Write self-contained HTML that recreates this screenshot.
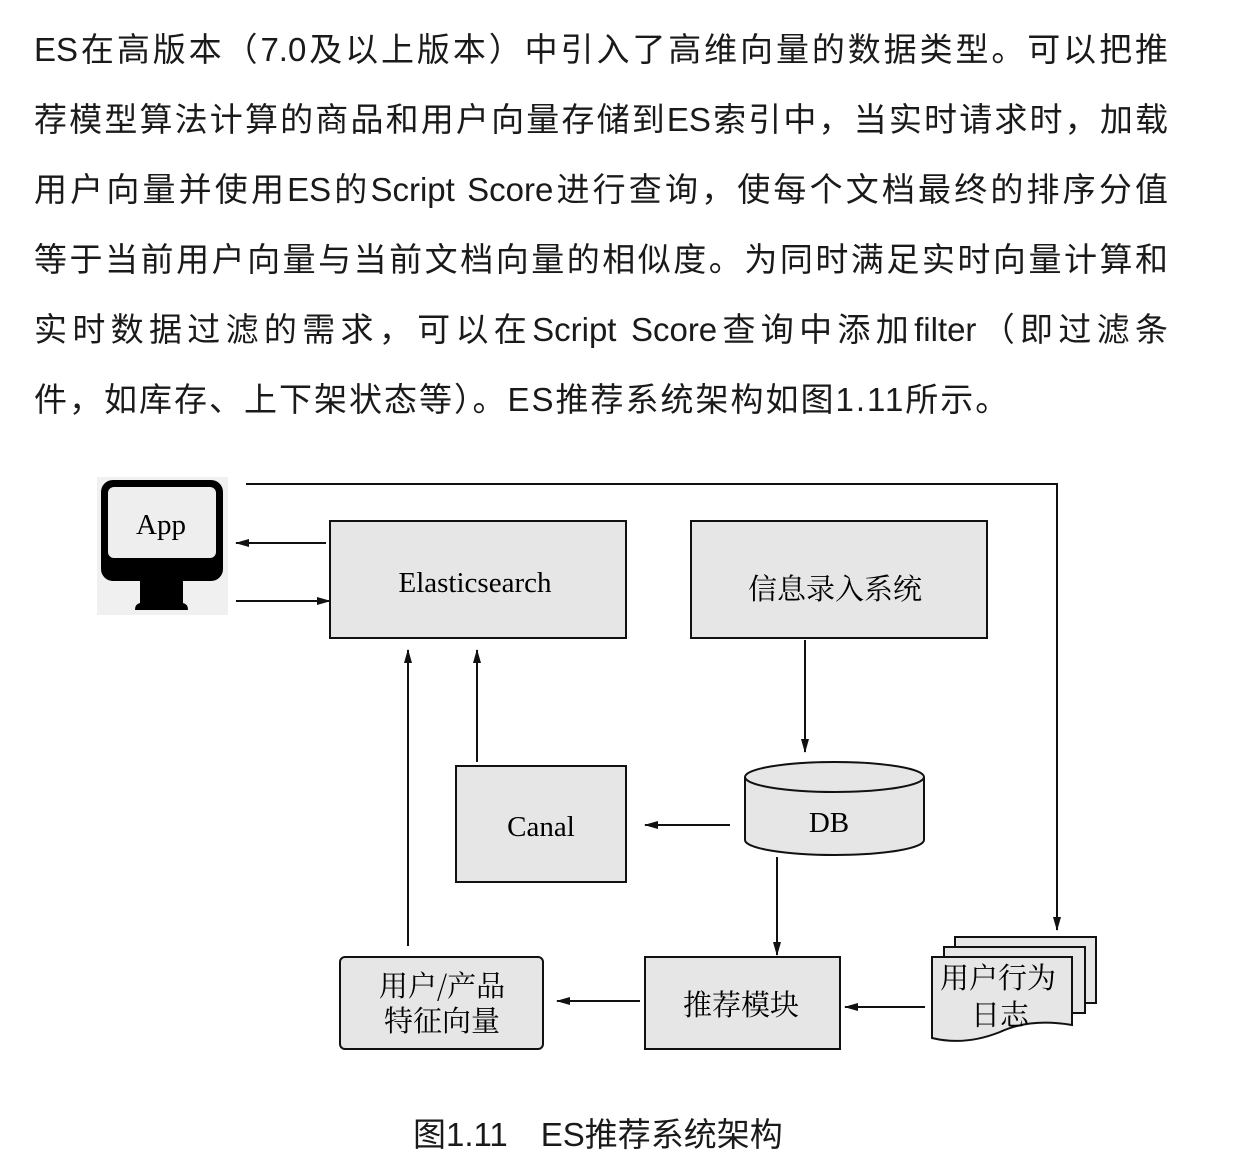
<!DOCTYPE html>
<html><head><meta charset="utf-8"><style>
body{margin:0;width:1252px;height:1152px;background:#fff;overflow:hidden;font-family:"Liberation Sans","Noto Sans CJK SC",sans-serif;color:#1a1a1a}
.p{position:absolute;left:34px;width:1134px;font-size:33px;line-height:70px;text-align:justify;text-align-last:justify;white-space:nowrap}
.cap{position:absolute;left:413px;top:1108px;font-size:33px;white-space:pre}
svg{position:absolute;left:0;top:0}
</style></head><body>
<div class="p" style="top:15px">ES在高版本（7.0及以上版本）中引入了高维向量的数据类型。可以把推</div>
<div class="p" style="top:85px">荐模型算法计算的商品和用户向量存储到ES索引中，当实时请求时，加载</div>
<div class="p" style="top:155px">用户向量并使用ES的Script Score进行查询，使每个文档最终的排序分值</div>
<div class="p" style="top:225px">等于当前用户向量与当前文档向量的相似度。为同时满足实时向量计算和</div>
<div class="p" style="top:295px">实时数据过滤的需求，可以在Script Score查询中添加filter（即过滤条</div>
<div class="p" style="top:365px;width:auto;text-align-last:auto;letter-spacing:2px">件，如库存、上下架状态等）。ES推荐系统架构如图1.11所示。</div>
<div class="cap">图1.11　ES推荐系统架构</div>
<svg width="1252" height="1152" viewBox="0 0 1252 1152">
<defs><marker id="a" markerWidth="14" markerHeight="8" refX="13" refY="4" orient="auto" markerUnits="userSpaceOnUse"><path d="M0,0 L14,4 L0,8 Z" fill="#111"/></marker></defs>
<g stroke="#111" stroke-width="2" fill="none">
<rect x="97" y="477" width="131" height="138" fill="#f0f0f0" stroke="none"/>
<rect x="101" y="480" width="122" height="101" rx="12" fill="#000" stroke="none"/>
<rect x="108" y="487" width="108" height="71" rx="6" fill="#eee" stroke="none"/>
<path d="M140,580 H183 V603 Q188,604 188,610 H135 Q135,604 140,603 Z" fill="#000" stroke="none"/>
<polyline points="246,484 1057,484 1057,930" marker-end="url(#a)"/>
<line x1="326" y1="543" x2="236" y2="543" marker-end="url(#a)"/>
<line x1="236" y1="601" x2="330" y2="601" marker-end="url(#a)"/>
<rect x="330" y="521" width="296" height="117" fill="#e6e6e6"/>
<rect x="691" y="521" width="296" height="117" fill="#e6e6e6"/>
<line x1="805" y1="640" x2="805" y2="752" marker-end="url(#a)"/>
<path d="M745,777 V840 A89.5,15 0 0 0 924,840 V777" fill="#e6e6e6"/>
<ellipse cx="834.5" cy="777" rx="89.5" ry="15" fill="#e6e6e6"/>
<rect x="456" y="766" width="170" height="116" fill="#e6e6e6"/>
<line x1="730" y1="825" x2="645" y2="825" marker-end="url(#a)"/>
<line x1="477" y1="762" x2="477" y2="650" marker-end="url(#a)"/>
<line x1="408" y1="946" x2="408" y2="650" marker-end="url(#a)"/>
<line x1="777" y1="857" x2="777" y2="955" marker-end="url(#a)"/>
<rect x="645" y="957" width="195" height="92" fill="#e6e6e6"/>
<rect x="340" y="957" width="203" height="92" rx="5" fill="#e6e6e6"/>
<line x1="640" y1="1001" x2="557" y2="1001" marker-end="url(#a)"/>
<line x1="925" y1="1007" x2="845" y2="1007" marker-end="url(#a)"/>
<rect x="955" y="937" width="141" height="66" fill="#e6e6e6"/>
<rect x="944" y="947" width="141" height="66" fill="#e6e6e6"/>
<path d="M932,957 H1072 V1025 Q1030,1018 1000,1032 Q965,1046 932,1038 Z" fill="#e6e6e6"/>
</g>
<g font-family="Liberation Serif,Noto Serif CJK SC,serif" font-size="29" fill="#000" text-anchor="middle">
<text x="161" y="534">App</text>
<text x="475" y="592">Elasticsearch</text>
<text x="541" y="836">Canal</text>
<text x="829" y="832">DB</text>
</g>
<g font-family="Noto Serif CJK SC,serif" font-size="29" fill="#000" text-anchor="middle">
<text x="835" y="599">信息录入系统</text>
<text x="741" y="1015">推荐模块</text>
<text x="442" y="996">用户/产品</text>
<text x="442" y="1031">特征向量</text>
<text x="998" y="988">用户行为</text>
<text x="1000" y="1025">日志</text>
</g>
</svg>
</body></html>
